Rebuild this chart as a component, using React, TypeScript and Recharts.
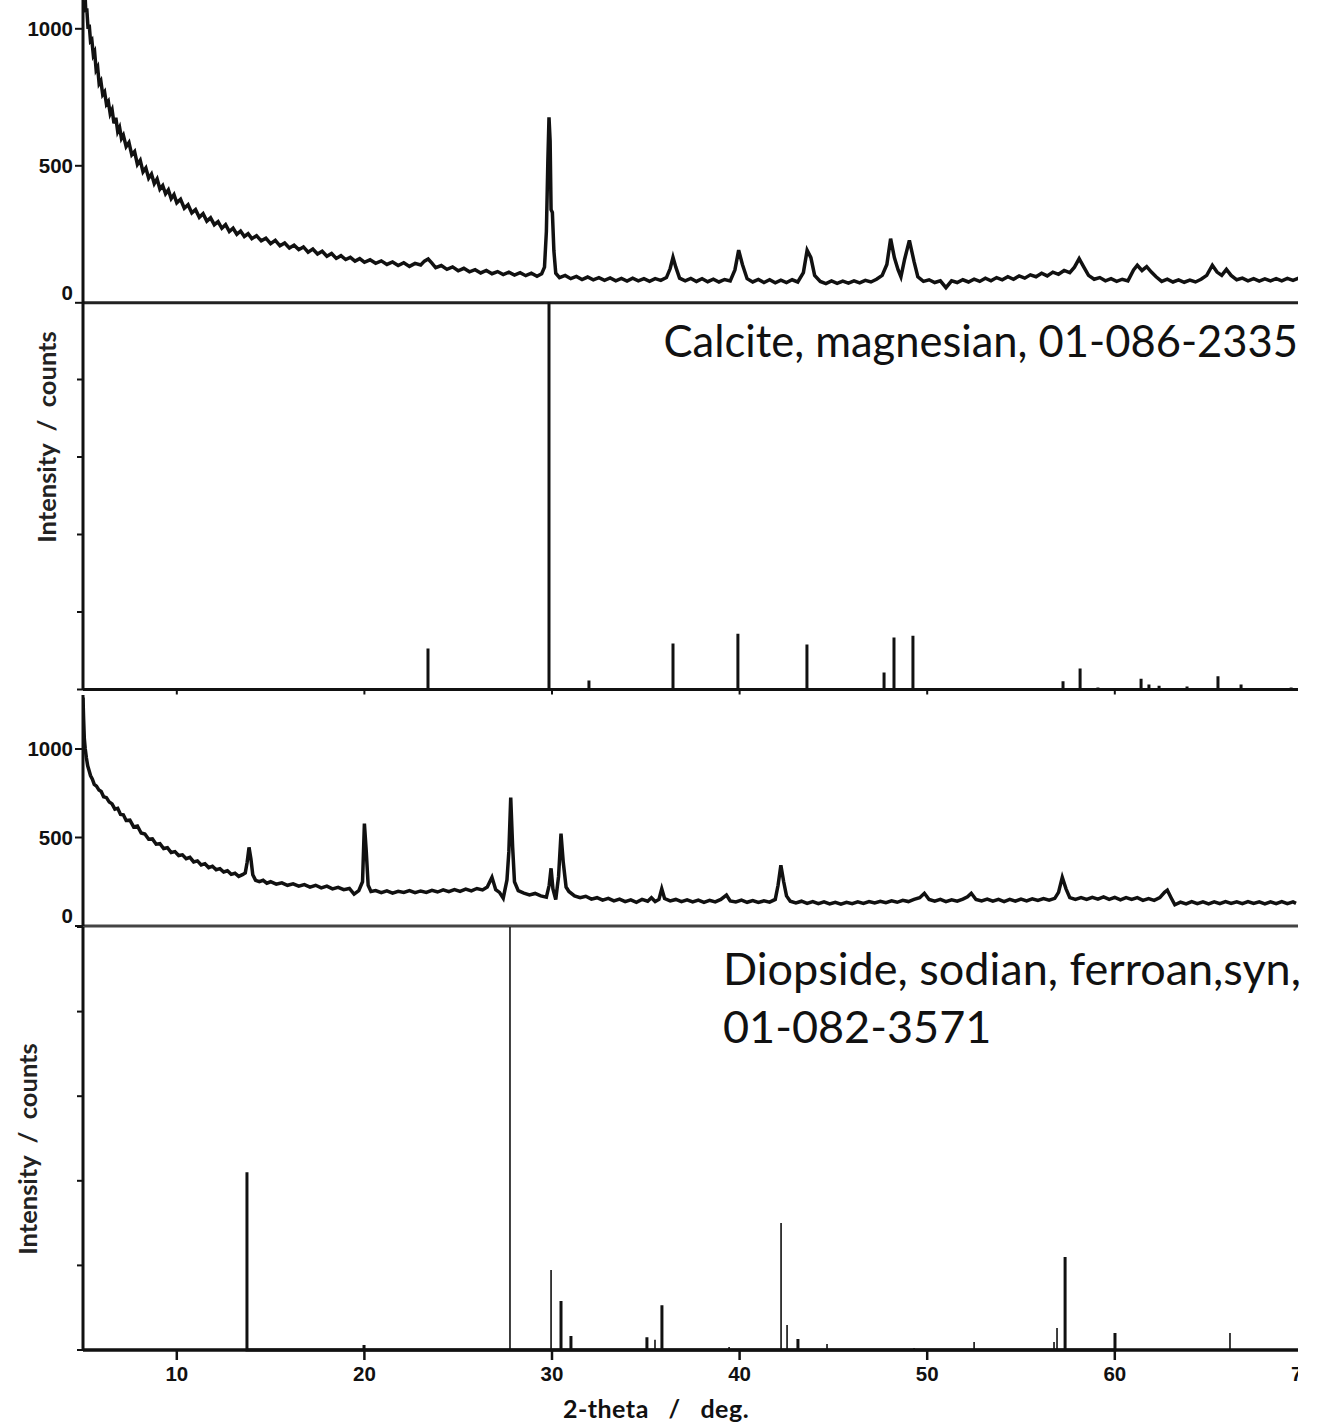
import { LineChart, Line, XAxis, YAxis } from 'recharts';

// 2-theta / deg. (shared by all four panels)
const degTicks = [10, 20, 30, 40, 50, 60, 70];
const countTicks = [0, 500, 1000];
const relTicks = [0, 20, 40, 60, 80, 100];

// measured pattern, calcite sample: [2-theta, counts]
const calciteScan: [number, number][] = [
  [5.0, 1190], [5.05, 1105], [5.1, 1140], [5.15, 1060], [5.2, 1075], [5.27, 1000], [5.33, 1015], [5.4, 955],
  [5.47, 960], [5.55, 905], [5.62, 915], [5.7, 850], [5.78, 860], [5.86, 800], [5.95, 810], [6.05, 760],
  [6.15, 770], [6.25, 725], [6.35, 735], [6.45, 690], [6.55, 705], [6.65, 655], [6.75, 675], [6.85, 625],
  [6.95, 640], [7.05, 600], [7.15, 612], [7.3, 570], [7.45, 585], [7.6, 540], [7.75, 552], [7.9, 505],
  [8.05, 520], [8.2, 478], [8.35, 492], [8.5, 455], [8.65, 470], [8.8, 435], [8.95, 452], [9.1, 415],
  [9.25, 428], [9.4, 398], [9.55, 412], [9.7, 380], [9.85, 395], [10.0, 365], [10.2, 378], [10.4, 345],
  [10.6, 358], [10.8, 328], [11.0, 340], [11.2, 312], [11.4, 325], [11.6, 298], [11.8, 310], [12.0, 285],
  [12.2, 296], [12.4, 272], [12.6, 285], [12.8, 260], [13.0, 272], [13.2, 250], [13.4, 262], [13.6, 242],
  [13.8, 252], [14.0, 234], [14.25, 245], [14.5, 226], [14.75, 236], [15.0, 216], [15.25, 228], [15.5, 208],
  [15.75, 218], [16.0, 200], [16.25, 210], [16.5, 194], [16.75, 204], [17.0, 185], [17.25, 196], [17.5, 178],
  [17.75, 188], [18.0, 170], [18.25, 180], [18.5, 162], [18.75, 172], [19.0, 158], [19.25, 166], [19.5, 152],
  [19.75, 161], [20.0, 148], [20.3, 157], [20.6, 144], [20.9, 153], [21.2, 140], [21.5, 149], [21.8, 136],
  [22.1, 146], [22.4, 133], [22.7, 144], [23.0, 138], [23.2, 152], [23.4, 160], [23.6, 145], [23.8, 128],
  [24.1, 136], [24.4, 122], [24.7, 131], [25.0, 117], [25.3, 126], [25.6, 113], [25.9, 121], [26.2, 109],
  [26.5, 118], [26.8, 106], [27.1, 114], [27.4, 103], [27.7, 112], [28.0, 101], [28.3, 110], [28.6, 99],
  [28.9, 108], [29.2, 97], [29.45, 106], [29.6, 130], [29.7, 260], [29.78, 520], [29.84, 677], [29.9, 590],
  [29.95, 340], [30.02, 330], [30.1, 190], [30.2, 108], [30.4, 92], [30.7, 100], [31.0, 88], [31.3, 96],
  [31.6, 85], [31.9, 94], [32.2, 84], [32.5, 92], [32.8, 82], [33.1, 91], [33.4, 80], [33.7, 89],
  [34.0, 79], [34.3, 90], [34.6, 80], [34.9, 88], [35.2, 78], [35.5, 88], [35.8, 82], [36.1, 92],
  [36.3, 125], [36.45, 166], [36.6, 130], [36.8, 90], [37.1, 80], [37.4, 89], [37.7, 78], [38.0, 88],
  [38.3, 77], [38.6, 86], [38.9, 76], [39.2, 85], [39.5, 80], [39.75, 120], [39.95, 192], [40.15, 140],
  [40.4, 88], [40.7, 76], [41.0, 85], [41.3, 74], [41.6, 84], [41.9, 73], [42.2, 83], [42.5, 74],
  [42.8, 84], [43.1, 76], [43.4, 110], [43.6, 192], [43.8, 165], [44.0, 100], [44.3, 78], [44.6, 70],
  [44.9, 80], [45.2, 71], [45.5, 79], [45.8, 72], [46.1, 80], [46.4, 73], [46.7, 82], [47.0, 76],
  [47.3, 86], [47.6, 100], [47.85, 140], [48.05, 234], [48.25, 165], [48.45, 120], [48.6, 95], [48.8, 160],
  [49.05, 228], [49.3, 150], [49.5, 95], [49.8, 78], [50.1, 84], [50.4, 74], [50.7, 80], [51.0, 55],
  [51.3, 80], [51.6, 74], [51.9, 84], [52.2, 76], [52.5, 86], [52.8, 78], [53.1, 90], [53.4, 80],
  [53.7, 92], [54.0, 84], [54.3, 95], [54.6, 86], [54.9, 98], [55.2, 90], [55.5, 102], [55.8, 95],
  [56.1, 108], [56.4, 98], [56.7, 112], [57.0, 104], [57.3, 118], [57.6, 110], [57.85, 130], [58.1, 161],
  [58.35, 130], [58.6, 100], [58.9, 86], [59.2, 92], [59.5, 80], [59.8, 88], [60.1, 78], [60.4, 86],
  [60.7, 80], [61.0, 120], [61.2, 137], [61.45, 118], [61.7, 132], [61.95, 112], [62.2, 95], [62.5, 78],
  [62.8, 86], [63.1, 76], [63.4, 84], [63.7, 75], [64.0, 83], [64.3, 76], [64.6, 86], [64.9, 100],
  [65.2, 137], [65.45, 112], [65.7, 100], [65.95, 122], [66.2, 100], [66.5, 84], [66.8, 90], [67.1, 80],
  [67.4, 88], [67.7, 79], [68.0, 87], [68.3, 80], [68.6, 88], [68.9, 80], [69.2, 89], [69.5, 82], [69.8, 90],
];

// reference pattern 01-086-2335: [2-theta, relative intensity]
const calciteSticks: [number, number][] = [
  [23.39, 10.6], [29.84, 100], [31.97, 2.3], [36.45, 11.9], [39.91, 14.4], [43.59, 11.6], [47.7, 4.4],
  [48.23, 13.4], [49.24, 13.9], [57.24, 2.1], [58.15, 5.4], [59.1, 0.5], [61.4, 2.8], [61.82, 1.3],
  [62.36, 1.0], [63.85, 0.8], [65.5, 3.4], [66.73, 1.3], [69.4, 0.5],
];

// measured pattern, diopside sample: [2-theta, counts]
const diopsideScan: [number, number][] = [
  [5.0, 1290], [5.03, 1180], [5.07, 1060], [5.12, 1000], [5.18, 950], [5.25, 905], [5.32, 880], [5.4, 850],
  [5.5, 830], [5.6, 800], [5.72, 790], [5.85, 768], [5.97, 760], [6.1, 730], [6.25, 725], [6.4, 700],
  [6.55, 690], [6.7, 660], [6.85, 665], [7.0, 630], [7.15, 628], [7.3, 596], [7.5, 598], [7.7, 560],
  [7.9, 565], [8.1, 525], [8.3, 520], [8.5, 490], [8.7, 492], [8.9, 462], [9.1, 465], [9.3, 438],
  [9.5, 442], [9.7, 415], [9.9, 420], [10.1, 398], [10.3, 402], [10.5, 380], [10.7, 388], [10.9, 362],
  [11.1, 368], [11.3, 345], [11.5, 352], [11.7, 330], [11.9, 338], [12.1, 318], [12.3, 324], [12.5, 305],
  [12.7, 312], [12.9, 292], [13.1, 298], [13.3, 280], [13.5, 290], [13.65, 300], [13.75, 360], [13.85, 444],
  [13.95, 380], [14.05, 290], [14.2, 258], [14.4, 250], [14.6, 258], [14.8, 242], [15.0, 250], [15.3, 236],
  [15.6, 244], [15.9, 230], [16.2, 238], [16.5, 225], [16.8, 234], [17.1, 220], [17.4, 230], [17.7, 215],
  [18.0, 225], [18.3, 210], [18.6, 218], [18.9, 205], [19.2, 212], [19.45, 180], [19.7, 200], [19.9, 250],
  [20.0, 579], [20.1, 420], [20.2, 230], [20.35, 195], [20.6, 200], [20.9, 188], [21.2, 198], [21.5, 186],
  [21.8, 196], [22.1, 190], [22.4, 200], [22.7, 188], [23.0, 198], [23.3, 190], [23.6, 202], [23.9, 192],
  [24.2, 204], [24.5, 194], [24.8, 206], [25.1, 196], [25.4, 208], [25.7, 198], [26.0, 212], [26.3, 204],
  [26.55, 220], [26.8, 275], [27.0, 205], [27.2, 190], [27.4, 157], [27.6, 260], [27.7, 420], [27.8, 725],
  [27.9, 450], [28.0, 250], [28.2, 200], [28.5, 186], [28.8, 176], [29.1, 184], [29.4, 170], [29.7, 163],
  [29.85, 230], [29.95, 326], [30.05, 210], [30.2, 150], [30.35, 280], [30.48, 522], [30.6, 360], [30.75, 220],
  [30.9, 195], [31.2, 170], [31.5, 160], [31.8, 168], [32.1, 152], [32.4, 160], [32.7, 146], [33.0, 156],
  [33.3, 142], [33.6, 152], [33.9, 138], [34.2, 148], [34.5, 134], [34.8, 150], [35.1, 140], [35.3, 160],
  [35.5, 138], [35.7, 150], [35.85, 210], [36.0, 155], [36.3, 142], [36.6, 150], [36.9, 138], [37.2, 148],
  [37.5, 136], [37.8, 146], [38.1, 134], [38.4, 145], [38.7, 136], [39.0, 150], [39.3, 175], [39.5, 142],
  [39.8, 136], [40.1, 146], [40.4, 134], [40.7, 144], [41.0, 133], [41.3, 142], [41.6, 135], [41.9, 150],
  [42.05, 230], [42.2, 343], [42.35, 250], [42.5, 170], [42.7, 140], [43.0, 130], [43.3, 140], [43.6, 128],
  [43.9, 138], [44.2, 126], [44.5, 136], [44.8, 125], [45.1, 134], [45.4, 124], [45.7, 134], [46.0, 126],
  [46.3, 136], [46.6, 128], [46.9, 138], [47.2, 130], [47.5, 140], [47.8, 132], [48.1, 142], [48.4, 134],
  [48.7, 145], [49.0, 138], [49.3, 150], [49.6, 160], [49.85, 185], [50.1, 150], [50.4, 140], [50.7, 150],
  [51.0, 138], [51.3, 148], [51.6, 140], [51.9, 152], [52.15, 165], [52.35, 185], [52.6, 150], [52.9, 142],
  [53.2, 152], [53.5, 140], [53.8, 150], [54.1, 138], [54.4, 150], [54.7, 140], [55.0, 152], [55.3, 142],
  [55.6, 154], [55.9, 144], [56.2, 155], [56.5, 146], [56.8, 156], [57.0, 190], [57.2, 275], [57.4, 210],
  [57.6, 160], [57.9, 150], [58.2, 160], [58.5, 150], [58.8, 162], [59.1, 152], [59.4, 165], [59.7, 150],
  [60.0, 162], [60.3, 148], [60.6, 160], [60.9, 150], [61.2, 160], [61.5, 145], [61.8, 155], [62.1, 145],
  [62.4, 160], [62.65, 190], [62.8, 202], [63.0, 160], [63.2, 120], [63.5, 135], [63.8, 125], [64.1, 138],
  [64.4, 126], [64.7, 136], [65.0, 125], [65.3, 136], [65.6, 126], [65.9, 138], [66.2, 127], [66.5, 137],
  [66.8, 126], [67.1, 138], [67.4, 127], [67.7, 136], [68.0, 125], [68.3, 137], [68.6, 126], [68.9, 138],
  [69.2, 126], [69.5, 136], [69.66, 128],
];

// reference pattern 01-082-3571: [2-theta, relative intensity]
const diopsideSticksBold: [number, number][] = [
  [13.74, 42], [19.98, 1.2], [30.48, 11.6], [31.01, 3.3], [35.06, 3], [35.86, 10.6], [43.11, 2.6],
  [57.35, 22], [60.01, 4],
];
const diopsideSticksFine: [number, number][] = [
  [27.76, 100], [29.95, 18.9], [35.49, 2.4], [39.44, 0.7], [42.21, 30], [42.53, 5.9], [44.66, 1.4],
  [49.3, 0.5], [52.5, 1.9], [56.76, 1.9], [56.92, 5.2], [66.14, 4],
];

const toPoints = (arr: [number, number][]) => arr.map(([x, y]) => ({ x, y }));
const toSticks = (arr: [number, number][]) =>
  arr.flatMap(([x, h]) => [{ x, y: 0 }, { x, y: h }, { x, y: 0 }]);

const INK = '#111';
const W = 1320;
const AXIS_W = 83;
// 18.76 px per degree, 5 deg sits on the left axis
const MARGIN = { top: 0, right: W - AXIS_W - 65 * 18.76, bottom: 0, left: 0 };
const TICK_FONT = '"Liberation Sans", Arial, sans-serif';
const TEXT_FONT = 'Lato, "Open Sans", sans-serif';

function CountTick(props: any) {
  const { x, y, payload } = props;
  const lift = payload.value === 0 ? 10 : 0;
  return (
    <text x={x} y={y - lift} dy="0.36em" textAnchor="end" fontFamily={TICK_FONT} fontSize={20.5} fontWeight={700} fill={INK}>
      {payload.value}
    </text>
  );
}

const xAxisBase = {
  type: 'number' as const,
  dataKey: 'x',
  domain: [5, 70] as [number, number],
  allowDataOverflow: true,
  ticks: degTicks,
  interval: 0 as const,
};

const yLabel = {
  position: 'absolute' as const,
  transform: 'translate(-50%, -50%) rotate(-90deg)',
  fontFamily: TEXT_FONT,
  fontSize: 25.5,
  fontWeight: 700,
  color: '#222',
  whiteSpace: 'pre' as const,
};

export default function App() {
  return (
    <div style={{ position: 'absolute', left: 0, top: 0, width: W, height: 1428, background: '#fff' }}>
      <div style={{ position: 'absolute', left: 0, top: 0, width: 1298, height: 1428, overflow: 'hidden' }}>
        {/* measured, calcite */}
        <div style={{ position: 'absolute', left: 0, top: -26.3 }}>
          <LineChart width={W} height={330.8} margin={MARGIN}>
            <XAxis {...xAxisBase} tick={false} tickLine={false} height={2} axisLine={{ stroke: '#222', strokeWidth: 3 }} />
            <YAxis
              type="number"
              width={AXIS_W}
              domain={[0, 1200]}
              ticks={countTicks}
              interval={0}
              tick={(p: any) => <CountTick {...p} />}
              tickSize={8}
              tickMargin={2}
              tickLine={{ stroke: INK, strokeWidth: 2 }}
              axisLine={{ stroke: INK, strokeWidth: 3 }}
            />
            <Line data={toPoints(calciteScan)} dataKey="y" type="linear" stroke={INK} strokeWidth={3.5} dot={false} isAnimationActive={false} />
          </LineChart>
        </div>

        {/* reference sticks, calcite */}
        <div style={{ position: 'absolute', left: 0, top: 301.5 }}>
          <LineChart width={W} height={407.5} margin={MARGIN}>
            <XAxis {...xAxisBase} tickFormatter={() => ''} tickSize={5} height={20} tickLine={{ stroke: INK, strokeWidth: 2 }} axisLine={{ stroke: INK, strokeWidth: 3 }} />
            <YAxis
              type="number"
              width={AXIS_W}
              domain={[0, 100]}
              ticks={relTicks}
              interval={0}
              tickFormatter={() => ''}
              tickSize={6}
              tickLine={{ stroke: INK, strokeWidth: 2 }}
              axisLine={{ stroke: INK, strokeWidth: 3 }}
            />
            <Line data={toSticks(calciteSticks)} dataKey="y" type="linear" stroke={INK} strokeWidth={3} dot={false} isAnimationActive={false} />
          </LineChart>
        </div>

        {/* measured, diopside */}
        <div style={{ position: 'absolute', left: 0, top: 695 }}>
          <LineChart width={W} height={233} margin={MARGIN}>
            <XAxis {...xAxisBase} tick={false} tickLine={false} height={2} axisLine={{ stroke: '#444', strokeWidth: 3 }} />
            <YAxis
              type="number"
              width={AXIS_W}
              domain={[0, 1305]}
              ticks={countTicks}
              interval={0}
              tick={(p: any) => <CountTick {...p} />}
              tickSize={8}
              tickMargin={2}
              tickLine={{ stroke: INK, strokeWidth: 2 }}
              axisLine={{ stroke: INK, strokeWidth: 3 }}
            />
            <Line data={toPoints(diopsideScan)} dataKey="y" type="linear" stroke={INK} strokeWidth={3.5} dot={false} isAnimationActive={false} />
          </LineChart>
        </div>

        {/* reference sticks, diopside */}
        <div style={{ position: 'absolute', left: 0, top: 927 }}>
          <LineChart width={W} height={501} margin={MARGIN}>
            <XAxis
              {...xAxisBase}
              height={78}
              tickSize={10}
              tickMargin={6}
              tick={{ fontFamily: TICK_FONT, fontSize: 20.5, fontWeight: 700, fill: INK }}
              tickLine={{ stroke: INK, strokeWidth: 2.5 }}
              axisLine={{ stroke: INK, strokeWidth: 3.5 }}
            />
            <YAxis
              type="number"
              width={AXIS_W}
              domain={[0, 100]}
              ticks={relTicks}
              interval={0}
              tickFormatter={() => ''}
              tickSize={6}
              tickLine={{ stroke: INK, strokeWidth: 2 }}
              axisLine={{ stroke: INK, strokeWidth: 3 }}
            />
            <Line data={toSticks(diopsideSticksFine)} dataKey="y" type="linear" stroke={INK} strokeWidth={1.6} dot={false} isAnimationActive={false} />
            <Line data={toSticks(diopsideSticksBold)} dataKey="y" type="linear" stroke={INK} strokeWidth={3} dot={false} isAnimationActive={false} />
          </LineChart>
        </div>
      </div>

      {/* annotations */}
      <div style={{ position: 'absolute', right: W - 1298, top: 319.4, fontFamily: TEXT_FONT, fontSize: 43.5, lineHeight: 1, color: INK, whiteSpace: 'nowrap' }}>
        Calcite, magnesian, 01-086-2335
      </div>
      <div style={{ position: 'absolute', left: 723, top: 938.6, fontFamily: TEXT_FONT, fontSize: 45, lineHeight: '58px', color: INK, whiteSpace: 'nowrap' }}>
        <div>Diopside, sodian, ferroan,syn,</div>
        <div>01-082-3571</div>
      </div>
      <div style={{ ...yLabel, left: 46, top: 437 }}>{'Intensity  /  counts'}</div>
      <div style={{ ...yLabel, left: 27, top: 1149 }}>{'Intensity  /  counts'}</div>
      <div style={{ position: 'absolute', left: 656, top: 1396, transform: 'translateX(-50%)', fontFamily: TEXT_FONT, fontSize: 25, fontWeight: 700, lineHeight: 1, letterSpacing: 0.5, color: INK, whiteSpace: 'pre' }}>
        {'2-theta   /   deg.'}
      </div>
    </div>
  );
}
